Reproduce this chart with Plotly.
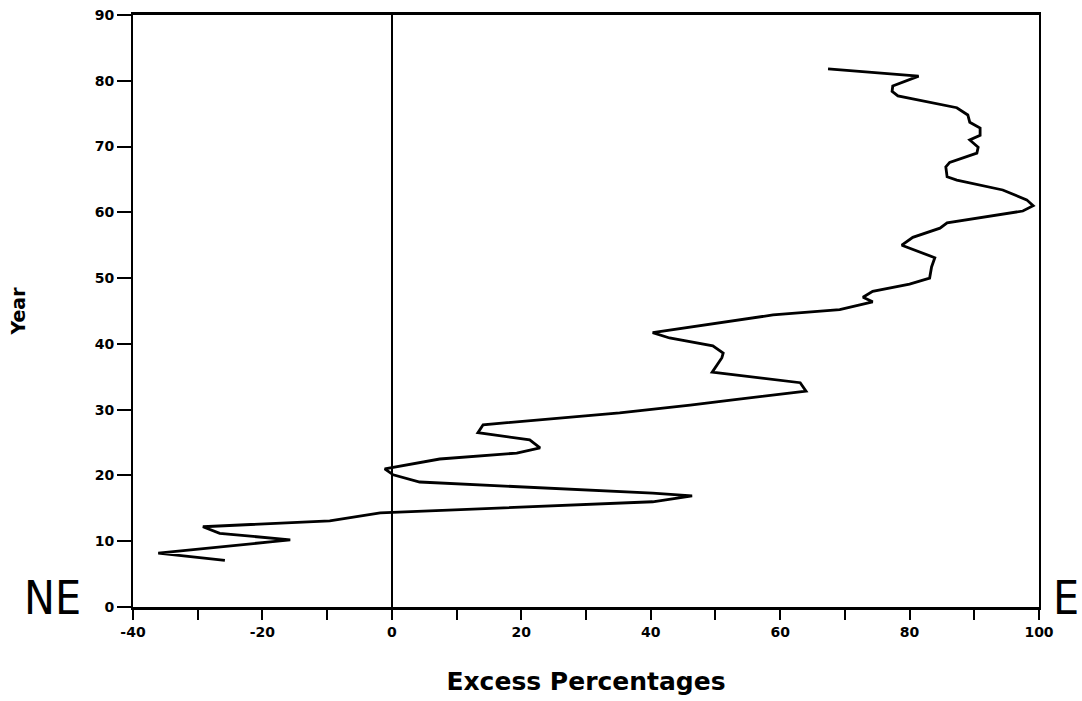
import plotly.graph_objects as go

excess = [67.4, 81.4, 77.4, 77.3, 78.2, 87.3, 89.0, 89.3, 90.9, 90.9, 89.3, 90.6, 90.4,
          86.2, 85.6, 85.8, 87.3, 94.4, 98.1, 99.1, 97.5, 85.8, 84.7, 80.5, 78.8, 83.9,
          83.4, 83.1, 80.0, 74.3, 72.8, 74.3, 69.2, 58.9, 40.3, 42.9, 49.6, 51.2, 51.0,
          49.5, 63.1, 64.0, 52.7, 46.1, 35.2, 14.1, 13.3, 21.3, 22.9, 19.3, 7.4, -1.1,
          0.2, 4.3, 40.3, 46.4, 40.3, -1.8, -9.6, -29.2, -26.6, -15.7, -18.8, -36.1, -25.8]
year = [81.8, 80.7, 79.2, 78.4, 77.7, 75.9, 74.8, 73.7, 72.8, 71.7, 71.0, 69.9, 69.0,
        67.6, 66.9, 65.4, 64.9, 63.4, 61.9, 61.0, 60.2, 58.4, 57.6, 56.2, 55.0, 53.1,
        51.7, 50.0, 49.1, 48.0, 47.1, 46.4, 45.2, 44.4, 41.7, 40.9, 39.7, 38.6, 37.9,
        35.7, 34.1, 32.8, 31.5, 30.7, 29.5, 27.7, 26.5, 25.4, 24.2, 23.4, 22.5, 21.0,
        20.1, 19.0, 17.3, 16.9, 16.0, 14.3, 13.1, 12.2, 11.2, 10.2, 9.9, 8.2, 7.1]

x_ticks = [-40, -20, 0, 20, 40, 60, 80, 100]
y_ticks = [0, 10, 20, 30, 40, 50, 60, 70, 80, 90]

FONT = "DejaVu Sans"
THIN = "Liberation Sans Narrow, DejaVu Sans Condensed, sans-serif"

W, H = 1082, 701
L, T = 133, 15
PW, PH = 906, 592

fig = go.Figure()
fig.add_trace(go.Scatter(x=excess, y=year, mode="lines",
                         line=dict(color="black", width=2.8), showlegend=False,
                         hoverinfo="skip"))

fig.update_layout(
    width=W, height=H,
    margin=dict(l=L, r=W - L - PW, t=T, b=H - T - PH, autoexpand=False),
    paper_bgcolor="white", plot_bgcolor="white",
    xaxis=dict(range=[-40, 100], tickvals=x_ticks, ticktext=[str(v) for v in x_ticks],
               ticks="outside", ticklen=10, tickwidth=2, tickcolor="black",
               minor=dict(dtick=10, tick0=0, ticks="outside", ticklen=10, tickwidth=2, tickcolor="black"),
               showline=True, linecolor="black", linewidth=3, mirror=True,
               showgrid=False, zeroline=True, zerolinecolor="black", zerolinewidth=1.5,
               ticklabeloverflow="allow",
               tickfont=dict(family=FONT, size=14, color="black", weight="bold"),
               title=dict(text="Excess Percentages", standoff=34,
                          font=dict(family=FONT, size=25, color="black", weight="bold"))),
    yaxis=dict(range=[0, 90], tickvals=y_ticks, ticktext=[str(v) for v in y_ticks],
               ticks="outside", ticklen=14, tickwidth=2, tickcolor="black",
               showline=True, linecolor="black", linewidth=2, mirror=True,
               showgrid=False, zeroline=False, ticklabeloverflow="allow",
               tickfont=dict(family=FONT, size=14, color="black", weight="bold"),
               title=dict(text="Year", standoff=64,
                          font=dict(family=FONT, size=19, color="black", weight="bold"))),
    annotations=[
        dict(text="NE", xref="paper", yref="paper", x=(22 - L) / PW, y=0.015, xanchor="left",
             yanchor="middle", showarrow=False,
             font=dict(family=THIN, size=46, color="black")),
        dict(text="E", xref="paper", yref="paper", x=(1051 - L) / PW, y=0.015, xanchor="left",
             yanchor="middle", showarrow=False,
             font=dict(family=THIN, size=46, color="black")),
    ],
)

fig.write_html("out.html",
               config={"displayModeBar": False},
               post_script="document.body.style.margin='0px';"
                           "document.body.style.overflow='hidden';")
